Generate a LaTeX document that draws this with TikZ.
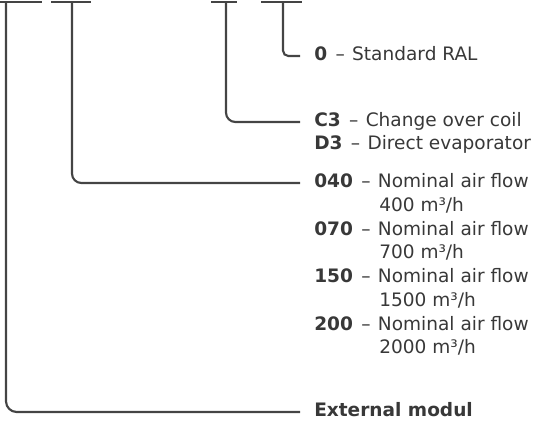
\documentclass[tikz,border=0pt]{standalone}
\usepackage{fontspec}
\setmainfont{DejaVu Sans}
\definecolor{linegray}{HTML}{444444}
\definecolor{textgray}{HTML}{383838}
\newcommand\codesep{\hspace{0.45em}–\hspace{0.4em}}
\tikzset{
  code/.style={anchor=west, inner xsep=10.5pt, inner ysep=0pt, text height=0.73em, text depth=0pt,
    font=\fontsize{13.9}{17}\selectfont, text=textgray},
  rest/.style={anchor=west, inner sep=0pt, text height=0.73em, text depth=0pt,
    font=\fontsize{13.9}{17}\selectfont, text=textgray},
  bar/.style={linegray, line width=1.6pt},
  lead/.style={linegray, line width=1.6pt},
}
\begin{document}
\begin{tikzpicture}[x=0.75pt, y=-0.75pt]
    \useasboundingbox (0,0) rectangle (533,421);

    \coordinate (T1) at (6,2);
    \coordinate (T2) at (72,2);
    \coordinate (T3) at (226,2);
    \coordinate (T4) at (283,2);

    \draw[bar] (0,2) -- (42,2);
    \draw[bar] (51,2) -- (91,2);
    \draw[bar] (211,2) -- (237,2);
    \draw[bar] (261,2) -- (302,2);

    \node[code] (ral) at (300,56) {\textbf{0}\codesep Standard RAL};
    \node[code] (coil) at (300,122) {\textbf{C3}\codesep Change over coil};
    \node[code] (evap) at (300,145) {\textbf{D3}\codesep Direct evaporator};
    \node[code] (f040) at (300,183) {\textbf{040}\codesep Nominal air flow};
    \node[rest] (v040) at (379,207) {400 m³/h};
    \node[code] (f070) at (300,231) {\textbf{070}\codesep Nominal air flow};
    \node[rest] (v070) at (379,254) {700 m³/h};
    \node[code] (f150) at (300,278) {\textbf{150}\codesep Nominal air flow};
    \node[rest] (v150) at (379,302) {1500 m³/h};
    \node[code] (f200) at (300,326) {\textbf{200}\codesep Nominal air flow};
    \node[rest] (v200) at (379,349) {2000 m³/h};
    \node[code] (ext) at (300,412) {\textbf{External modul}};

    \draw[lead, rounded corners=4pt] (T4) |- (ral.west);
    \draw[lead, rounded corners=7pt] (T3) |- (coil.west);
    \draw[lead, rounded corners=7pt] (T2) |- (f040.west);
    \draw[lead, rounded corners=8pt] (T1) |- (ext.west);
  \end{tikzpicture}
\end{document}
